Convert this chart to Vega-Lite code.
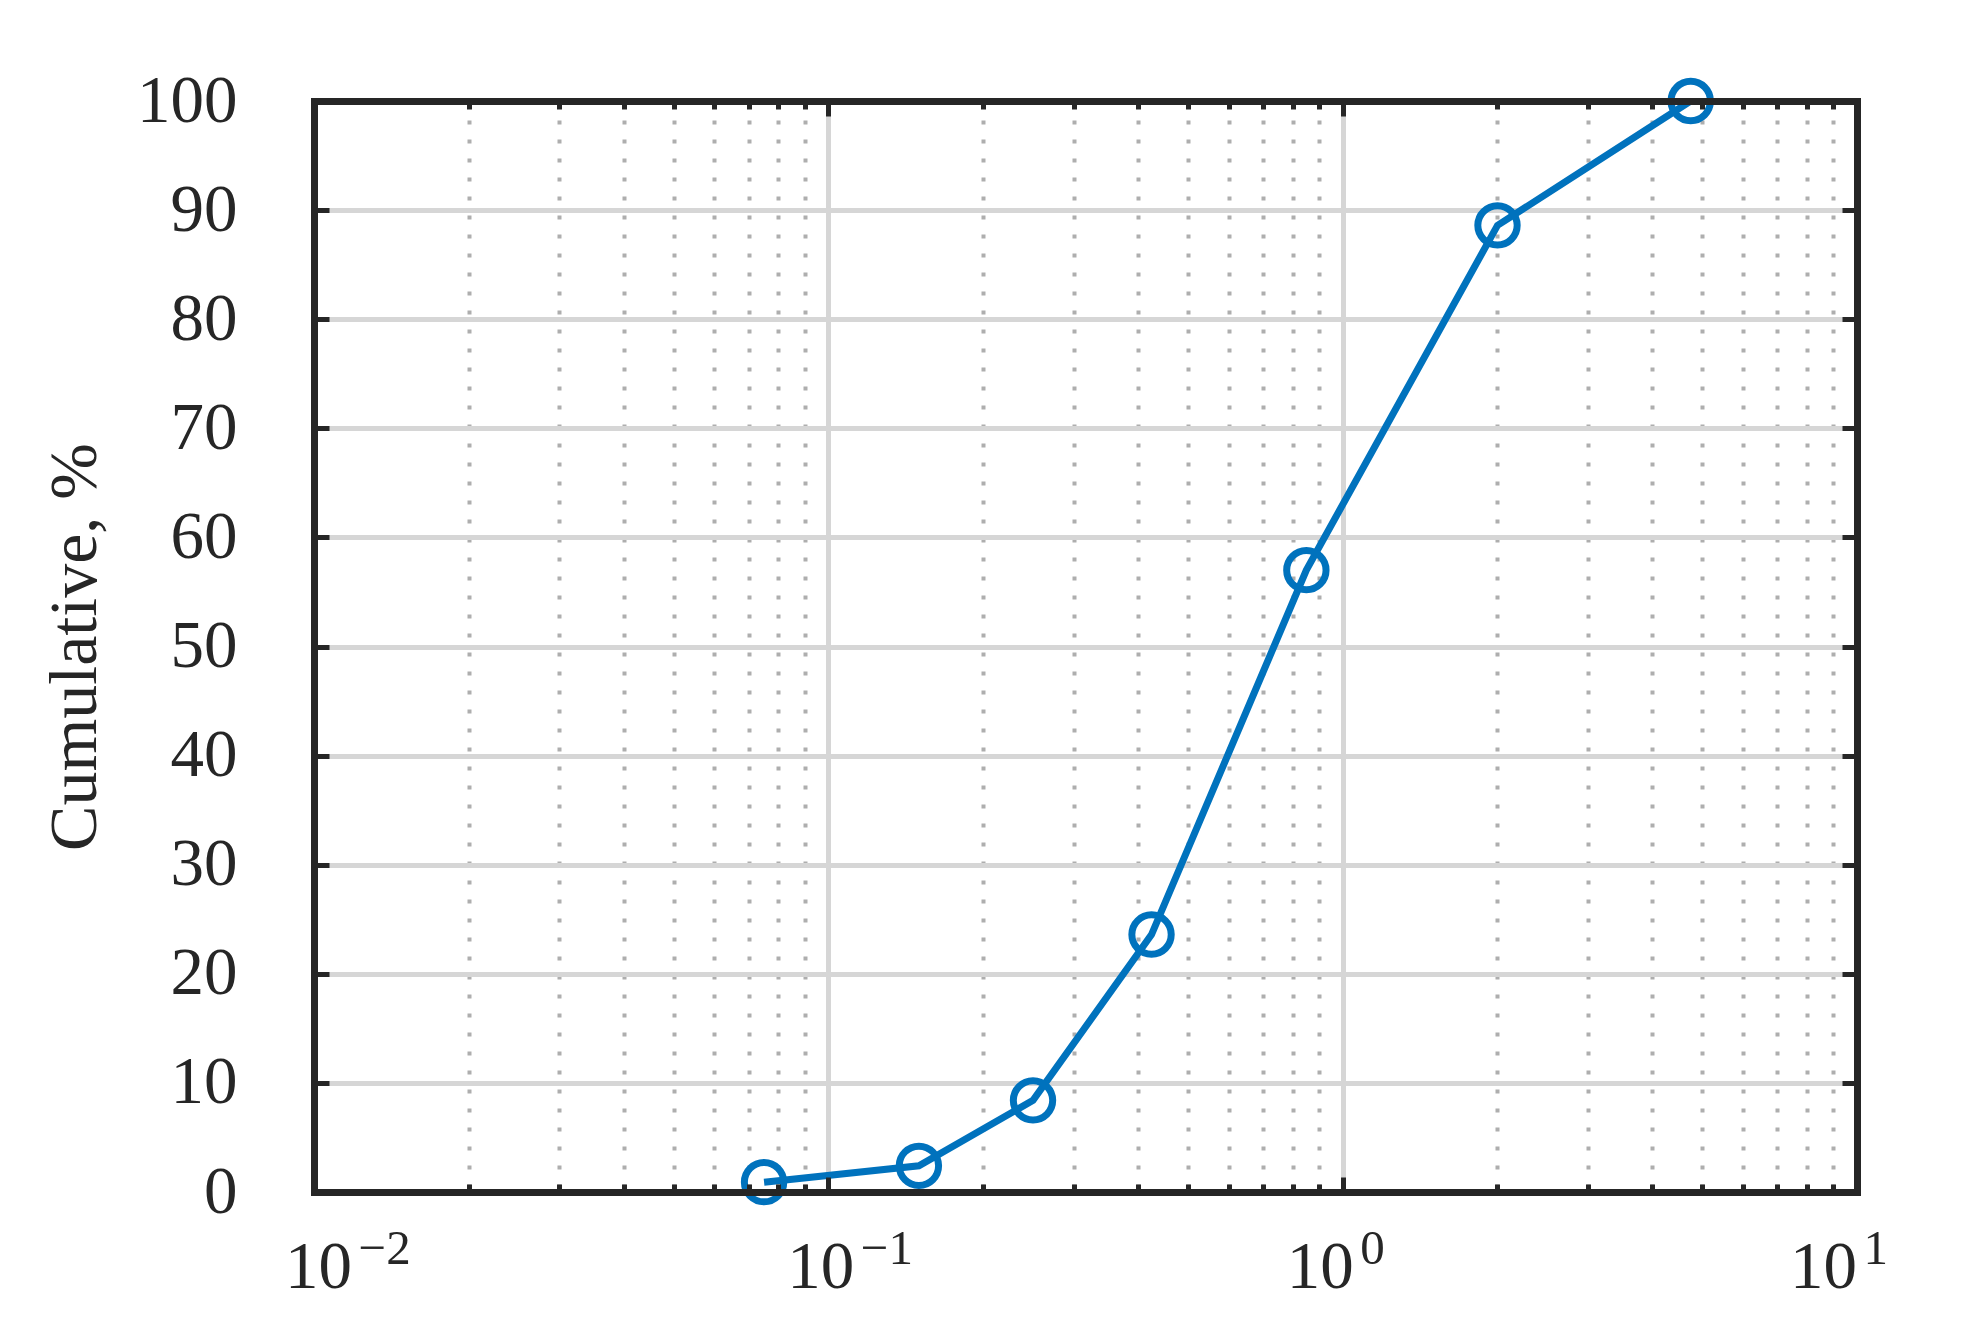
{
  "$schema": "https://vega.github.io/schema/vega-lite/v6.json",
  "width": 1543,
  "height": 1091,
  "autosize": {"type": "none"},
  "padding": {"left": 314, "top": 101, "right": 114, "bottom": 151},
  "background": "white",
  "config": {
    "view": {"stroke": null},
    "font": "Liberation Serif",
    "axis": {"labelFont": "Liberation Serif", "titleFont": "Liberation Serif", "labelColor": "#262626", "titleColor": "#262626"}
  },
  "datasets": {
    "pts": [
      {"size": 0.075, "cum": 0.9},
      {"size": 0.15, "cum": 2.4},
      {"size": 0.25, "cum": 8.4},
      {"size": 0.425, "cum": 23.6},
      {"size": 0.85, "cum": 57.0},
      {"size": 2.0, "cum": 88.6},
      {"size": 4.75, "cum": 100}
    ]
  },
  "data": {"name": "pts"},
  "layer": [
    {
      "mark": {"type": "point", "opacity": 0},
      "encoding": {
        "x": {"field": "size", "type": "quantitative", "scale": {"type": "log", "domain": [0.01, 10], "nice": false},
          "axis": {"orient": "bottom", "offset": 0, "zindex": 0, "title": null, "labels": false, "ticks": false, "domain": false,
            "grid": true,
            "values": [0.02,0.03,0.04,0.05,0.06,0.07,0.08,0.09,0.1,0.2,0.3,0.4,0.5,0.6,0.7,0.8,0.9,1,2,3,4,5,6,7,8,9],
            "gridColor": {"condition": {"test": "datum.value == 0.1 || datum.value == 1", "value": "#d6d6d6"}, "value": "#aeaeae"},
            "gridDash": {"condition": {"test": "datum.value == 0.1 || datum.value == 1", "value": []}, "value": [4, 15]},
            "gridWidth": {"condition": {"test": "datum.value == 0.1 || datum.value == 1", "value": 5}, "value": 4}}},
        "y": {"field": "cum", "type": "quantitative", "scale": {"domain": [0, 100], "nice": false},
          "axis": {"orient": "left", "offset": 0, "zindex": 0, "title": null, "labels": false, "ticks": false, "domain": false,
            "grid": true, "values": [10,20,30,40,50,60,70,80,90], "gridColor": "#d6d6d6", "gridWidth": 5}}
      }
    },
    {
      "mark": {"type": "line", "color": "#0072BD", "strokeWidth": 7,
        "point": {"filled": false, "size": 1550, "strokeWidth": 7, "color": "#0072BD"}},
      "encoding": {
        "x": {"field": "size", "type": "quantitative", "axis": null},
        "y": {"field": "cum", "type": "quantitative", "axis": null}
      }
    },
    {
      "mark": {"type": "point", "opacity": 0},
      "encoding": {
        "x": {"field": "size", "type": "quantitative",
          "axis": {"orient": "bottom", "offset": 0, "zindex": 1, "title": null, "grid": false,
            "values": [0.01,0.02,0.03,0.04,0.05,0.06,0.07,0.08,0.09,0.1,0.2,0.3,0.4,0.5,0.6,0.7,0.8,0.9,1,2,3,4,5,6,7,8,9,10],
            "domain": true, "domainColor": "#262626", "domainWidth": 7, "domainCap": "square",
            "ticks": true, "tickColor": "#262626", "tickWidth": 5,
            "tickSize": {"condition": {"test": "datum.value == 0.01 || datum.value == 0.1 || datum.value == 1 || datum.value == 10", "value": -15}, "value": -8},
            "labelExpr": "(datum.value == 0.01 || datum.value == 0.1 || datum.value == 1 || datum.value == 10) ? '10' : ''",
            "labelFontSize": 67, "labelBaseline": "alphabetic", "labelPadding": 110,
            "labelOffset": {"condition": [
              {"test": "datum.value == 0.01", "value": 4},
              {"test": "datum.value == 0.1", "value": -8},
              {"test": "datum.value == 1", "value": -23}
            ], "value": -34},
            "labelFlush": false, "labelOverlap": false, "labelBound": false}},
        "y": {"field": "cum", "type": "quantitative",
          "axis": {"orient": "left", "offset": 0, "zindex": 1, "grid": false,
            "values": [0,10,20,30,40,50,60,70,80,90,100],
            "domain": true, "domainColor": "#262626", "domainWidth": 7, "domainCap": "square",
            "ticks": true, "tickColor": "#262626", "tickWidth": 5, "tickSize": -15,
            "labelFontSize": 67, "labelPadding": 92, "labelOverlap": false, "labelBound": false, "labelFlush": false,
            "title": "Cumulative, %", "titleFontSize": 68, "titleFontWeight": "normal", "titlePadding": 27}}
      }
    },
    {
      "mark": {"type": "point", "opacity": 0},
      "encoding": {
        "x": {"field": "size", "type": "quantitative",
          "axis": {"orient": "bottom", "offset": 0, "zindex": 1, "title": null, "grid": false, "domain": false, "ticks": false, "tickSize": 0,
            "values": [0.01, 0.1, 1, 10],
            "labelExpr": "datum.value == 0.01 ? '−2' : datum.value == 0.1 ? '−1' : datum.value == 1 ? '0' : '1'",
            "labelFontSize": 49, "labelBaseline": "alphabetic", "labelAlign": "left", "labelPadding": 71,
            "labelOffset": {"condition": [
              {"test": "datum.value == 0.01", "value": 44},
              {"test": "datum.value == 0.1", "value": 32},
              {"test": "datum.value == 1", "value": 17}
            ], "value": 6},
            "labelFlush": false, "labelOverlap": false, "labelBound": false}},
        "y": {"field": "cum", "type": "quantitative", "axis": null}
      }
    },
    {
      "mark": {"type": "point", "opacity": 0},
      "encoding": {
        "x": {"field": "size", "type": "quantitative",
          "axis": {"orient": "top", "offset": 0, "zindex": 1, "title": null, "grid": false, "labels": false,
            "values": [0.01,0.02,0.03,0.04,0.05,0.06,0.07,0.08,0.09,0.1,0.2,0.3,0.4,0.5,0.6,0.7,0.8,0.9,1,2,3,4,5,6,7,8,9,10],
            "domain": true, "domainColor": "#262626", "domainWidth": 7, "domainCap": "square",
            "ticks": true, "tickColor": "#262626", "tickWidth": 5,
            "tickSize": {"condition": {"test": "datum.value == 0.01 || datum.value == 0.1 || datum.value == 1 || datum.value == 10", "value": -15}, "value": -8}}},
        "y": {"field": "cum", "type": "quantitative",
          "axis": {"orient": "right", "offset": 0, "zindex": 1, "title": null, "grid": false, "labels": false,
            "values": [0,10,20,30,40,50,60,70,80,90,100],
            "domain": true, "domainColor": "#262626", "domainWidth": 7, "domainCap": "square",
            "ticks": true, "tickColor": "#262626", "tickWidth": 5, "tickSize": -15}}
      }
    }
  ],
  "resolve": {"axis": {"x": "independent", "y": "independent"}}
}
